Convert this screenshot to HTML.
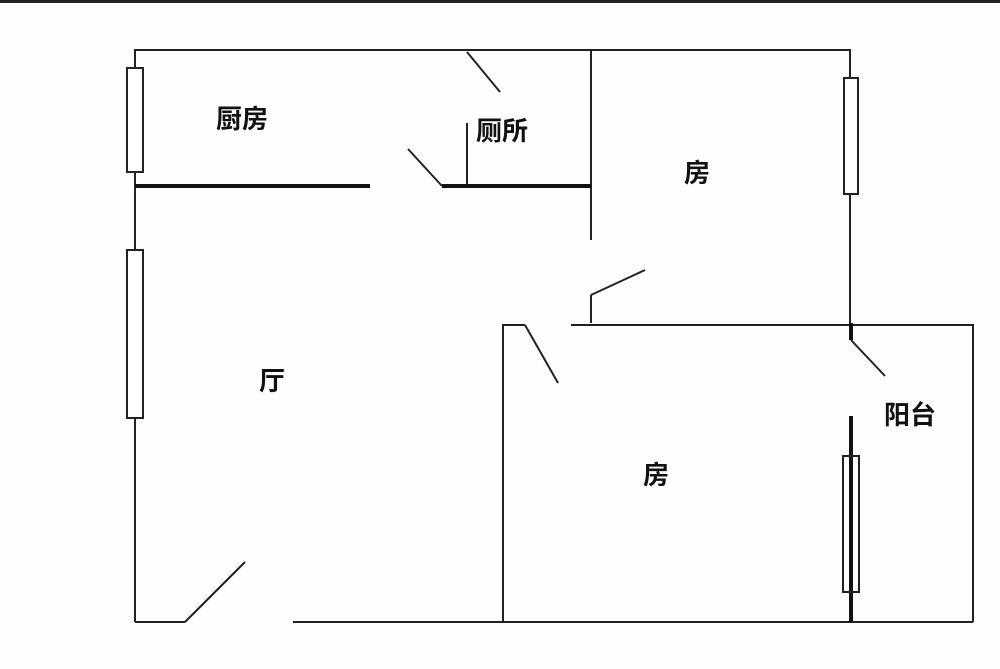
<!DOCTYPE html>
<html><head><meta charset="utf-8"><style>
html,body{margin:0;padding:0;background:#fff;}
svg{display:block;}
text{font-family:"Liberation Sans","Noto Sans CJK SC",sans-serif;font-weight:bold;font-size:26px;fill:#111;}
</style></head><body>
<svg width="1000" height="669" viewBox="0 0 1000 669" xmlns="http://www.w3.org/2000/svg">
<rect x="0" y="0" width="1000" height="669" fill="#fefefe"/>
<rect x="0" y="0" width="1000" height="3" fill="#222"/>
<g stroke="#222" fill="none" stroke-width="2">
<polyline points="135,622 135,50 850,50 850,325"/>
<line x1="591" y1="50" x2="591" y2="240"/>
<line x1="467" y1="123" x2="467" y2="186"/>
<line x1="467" y1="52" x2="500" y2="92"/>
<line x1="408" y1="149" x2="442" y2="186"/>
<line x1="591" y1="295" x2="591" y2="323"/>
<line x1="591" y1="295" x2="645" y2="270"/>
<polyline points="571,325 973,325 973,622"/>
<polyline points="525,325 503,325 503,622"/>
<line x1="525" y1="325" x2="558" y2="383"/>
<line x1="135" y1="622" x2="185" y2="622"/>
<line x1="293" y1="622" x2="973" y2="622"/>
<line x1="185" y1="622" x2="245" y2="562"/>
<line x1="851" y1="340" x2="885" y2="376"/>
<rect x="127" y="68" width="16" height="104" fill="#fff"/>
<rect x="127" y="250" width="16" height="168" fill="#fff"/>
<rect x="844" y="78" width="14" height="116" fill="#fff"/>
</g>
<g stroke="#111" stroke-width="4">
<line x1="135" y1="186" x2="370" y2="186"/>
<line x1="442" y1="186" x2="591" y2="186"/>
<line x1="851" y1="323" x2="851" y2="340"/>
<line x1="851" y1="416" x2="851" y2="622"/>
</g>
<rect x="843" y="456" width="16" height="136" fill="none" stroke="#222" stroke-width="2"/>
<text x="216" y="128">厨房</text>
<text x="476" y="140">厕所</text>
<text x="684" y="182">房</text>
<text x="259" y="390">厅</text>
<text x="643" y="484">房</text>
<text x="884" y="424">阳台</text>
</svg>
</body></html>
